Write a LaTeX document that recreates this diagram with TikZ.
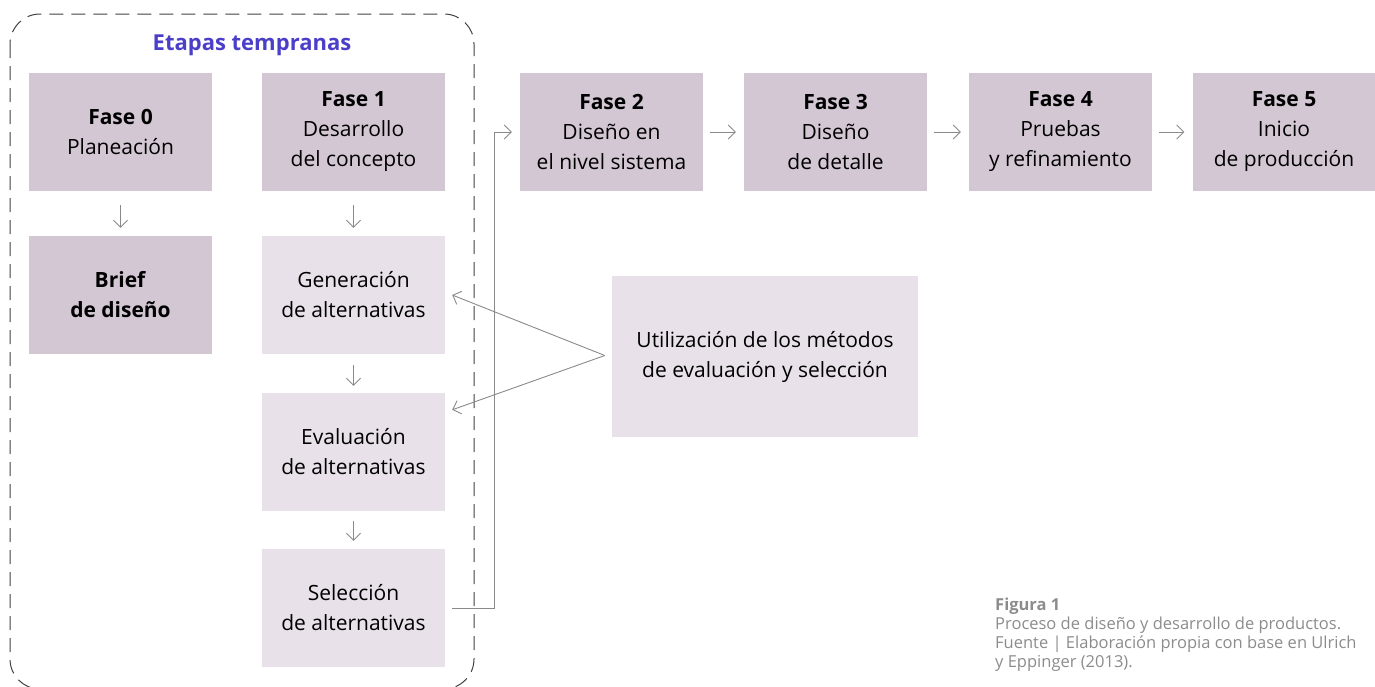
\documentclass[tikz,border=0pt]{standalone}
\usepackage{fontspec}
\setmainfont{Open Sans}
\usetikzlibrary{arrows.meta,calc}
\definecolor{darkm}{HTML}{D3C7D4}
\definecolor{lightm}{HTML}{E8E1E9}
\definecolor{blueT}{HTML}{4B3FC9}
\definecolor{arr}{HTML}{8A8A8A}
\definecolor{capc}{HTML}{8C8C8C}
\begin{document}
\begin{tikzpicture}[x=1pt,y=-1pt,
 box/.style={minimum width=183pt, minimum height=118pt, inner sep=0pt, align=center, font=\fontsize{21}{30}\selectfont, text=black},
 darkbox/.style={box, fill=darkm},
 lightbox/.style={box, fill=lightm},
 con/.style={draw=arr, line width=0.9pt, -{Straight Barb[length=7pt,width=14pt]}},
 frame/.style={draw=black!75, line width=1pt, dash pattern=on 14pt off 8pt, rounded corners=30pt},
 ]
\useasboundingbox (0,0) rectangle (1375,686);
\draw[frame] (10,14) rectangle (474,689);
\node[font=\fontsize{22}{26}\selectfont\bfseries, text=blueT] (title) at (252,45) {Etapas tempranas};

\node[darkbox] (f0) at (120.5,132) {\textbf{Fase 0}\\Planeación};
\node[darkbox] (f1) at (353.5,132) {\textbf{Fase 1}\\Desarrollo\\del concepto};
\node[darkbox] (brief) at (120.5,295) {\textbf{Brief}\\\textbf{de diseño}};
\node[lightbox] (gen) at (353.5,295) {Generación\\de alternativas};
\node[lightbox] (eva) at (353.5,452) {Evaluación\\de alternativas};
\node[lightbox] (sel) at (353.5,608) {Selección\\de alternativas};

\node[darkbox] (f2) at (611.5,132) {\textbf{Fase 2}\\Diseño en\\el nivel sistema};
\node[darkbox] (f3) at (835.5,132) {\textbf{Fase 3}\\Diseño\\de detalle};
\node[darkbox] (f4) at (1060.5,132) {\textbf{Fase 4}\\Pruebas\\y refinamiento};
\node[darkbox] (f5) at (1284,132) {\textbf{Fase 5}\\Inicio\\de producción};

\node[lightbox, minimum width=306pt, minimum height=161pt] (ut) at (765,356.5) {Utilización de los métodos\\de evaluación y selección};

\draw[con, shorten <=14pt, shorten >=8pt] (f0) -- (brief);
\draw[con, shorten <=14pt, shorten >=8pt] (f1) -- (gen);
\draw[con, shorten <=11pt, shorten >=7pt] (gen) -- (eva);
\draw[con, shorten <=10pt, shorten >=8pt] (eva) -- (sel);

\draw[con, shorten <=7pt, shorten >=8pt] (f2) -- (f3);
\draw[con, shorten <=7pt, shorten >=8pt] (f3) -- (f4);
\draw[con, shorten <=7pt, shorten >=8pt] (f4) -- (f5);

\coordinate (uf) at ($(ut.west)+(-7,-1)$);
\draw[con] (uf) -- ($(gen.east)+(7,0)$);
\draw[con] (uf) -- ($(eva.north east)+(7,17)$);

\draw[con] ($(sel.east)+(7,0)$) -| ($(f2.west)+(-25,0)$) -- ($(f2.west)+(-8,0)$);

\node[anchor=north west, align=left, inner sep=0pt, text=capc, font=\fontsize{16.5}{19}\selectfont] (cap) at (995,598) {\textbf{Figura 1}\\Proceso de diseño y desarrollo de productos.\\Fuente | Elaboración propia con base en Ulrich\\y Eppinger (2013).};
\end{tikzpicture}
\end{document}
